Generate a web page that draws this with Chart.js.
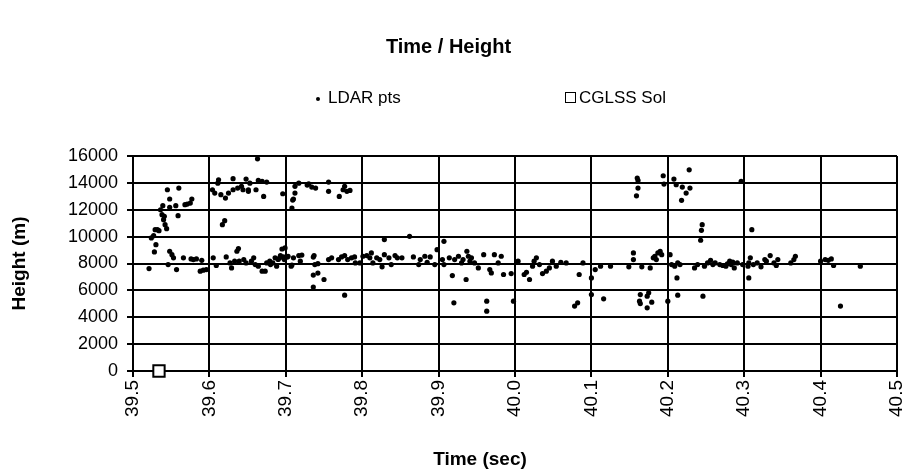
<!DOCTYPE html>
<html>
<head>
<meta charset="utf-8">
<script src="https://cdn.jsdelivr.net/npm/chart.js@4.4.1/dist/chart.umd.min.js"></script>
<style>
  body { margin: 0; background: #fff; }
  #wrap { position: relative; width: 913px; height: 475px; }
  #legend { position: absolute; left: 0; top: 86px; width: 913px; height: 24px;
    font: 17px "Liberation Sans", Arial, sans-serif; color: #000; }
  .item { position: absolute; top: 0; line-height: 24px; white-space: nowrap; }
  .dot { position: absolute; width: 4px; height: 4px; border-radius: 50%; background: #000; top: 11px; }
  .box { position: absolute; width: 9px; height: 9px; border: 1.5px solid #000; background: #fff; top: 6px; }
</style>
</head>
<body>
<div id="wrap">
  <canvas id="chart" width="913" height="475"></canvas>
  <div id="legend">
    <div class="item" style="left:316px"><span class="dot" style="left:0"></span><span style="margin-left:12px">LDAR pts</span></div>
    <div class="item" style="left:565px"><span class="box" style="left:0"></span><span style="margin-left:14px">CGLSS Sol</span></div>
  </div>
</div>
<script>
// LDAR source points: time (sec) and height (m)
const ldarTime = [
  39.521, 39.528, 39.530, 39.524, 39.527, 39.529, 39.532, 39.534, 39.544, 39.542,
  39.540, 39.538, 39.541, 39.536, 39.539, 39.548, 39.545, 39.560, 39.548, 39.556,
  39.559, 39.568, 39.575, 39.577, 39.571, 39.546, 39.548, 39.551, 39.553, 39.557,
  39.566, 39.576, 39.579, 39.583, 39.590, 39.588, 39.592, 39.596,
  39.605, 39.609, 39.611, 39.612, 39.607, 39.604, 39.617, 39.620, 39.615, 39.621,
  39.625, 39.631, 39.631, 39.637, 39.622, 39.629, 39.627, 39.633, 39.636, 39.638,
  39.639, 39.642, 39.644, 39.648, 39.651, 39.653, 39.651, 39.663, 39.661, 39.664,
  39.669, 39.675, 39.671, 39.658, 39.660, 39.664, 39.669, 39.673, 39.675, 39.679,
  39.686, 39.688, 39.693, 39.695, 39.696, 39.698, 39.645, 39.648, 39.655, 39.680,
  39.690, 39.683, 39.692, 39.697,
  39.702, 39.708, 39.721, 39.709, 39.708, 39.712, 39.728, 39.734, 39.736, 39.736,
  39.742, 39.736, 39.712, 39.710, 39.717, 39.730, 39.739, 39.756, 39.756, 39.770,
  39.775, 39.780, 39.784, 39.777, 39.699, 39.703, 39.710, 39.717, 39.719, 39.707,
  39.737, 39.738, 39.742, 39.750, 39.777, 39.756, 39.760, 39.769, 39.773, 39.777,
  39.781, 39.786, 39.790, 39.791, 39.797, 39.801, 39.806, 39.810, 39.812, 39.814,
  39.819, 39.823, 39.826, 39.829, 39.829, 39.835, 39.838, 39.843, 39.846, 39.852,
  39.862, 39.867, 39.874, 39.876, 39.882, 39.885, 39.889, 39.895, 39.898,
  39.907, 39.905, 39.907, 39.914, 39.918, 39.920, 39.921, 39.926, 39.930, 39.932,
  39.937, 39.936, 39.939, 39.941, 39.943, 39.947, 39.952, 39.959, 39.963, 39.963,
  39.967, 39.969, 39.973, 39.978, 39.982, 39.985, 39.995, 39.998, 40.004, 40.012,
  40.015, 40.019, 40.023, 40.025, 40.028, 40.032, 40.036, 40.041, 40.045, 40.049,
  40.054, 40.060, 40.067, 40.078, 40.082, 40.084, 40.089, 40.100, 40.100,
  40.105, 40.112, 40.116, 40.125, 40.149, 40.155, 40.155, 40.160, 40.161, 40.161,
  40.159, 40.164, 40.163, 40.164, 40.166, 40.173, 40.173, 40.175, 40.179, 40.177,
  40.181, 40.183, 40.185, 40.187, 40.190, 40.192, 40.194, 40.195, 40.200, 40.203,
  40.205, 40.208, 40.211, 40.209, 40.213, 40.212, 40.213, 40.216, 40.218, 40.219,
  40.224, 40.228, 40.229, 40.235, 40.239, 40.243, 40.244, 40.245, 40.246, 40.248,
  40.252, 40.256, 40.259, 40.268, 40.272, 40.276, 40.281, 40.283, 40.287, 40.291,
  40.296, 40.298, 40.305, 40.306, 40.262, 40.278, 40.285,
  40.306, 40.308, 40.310, 40.312, 40.317, 40.322, 40.327, 40.329, 40.334, 40.339,
  40.344, 40.342, 40.361, 40.365, 40.367, 40.400, 40.406, 40.410, 40.414, 40.417,
  40.426, 40.452
];
const ldarHeight = [
  7620, 8860, 9400, 9900, 10070, 10520, 10520, 10440, 10590, 10890,
  11260, 11630, 11510, 12000, 12300, 12800, 13490, 13610, 12180, 12300,
  11560, 12380, 12500, 12800, 12420, 7920, 8910, 8660, 8420, 7550,
  8420, 8340, 8290, 8340, 8240, 7430, 7500, 7550,
  8420, 7850, 13980, 14230, 13240, 13490, 10890, 11190, 13120, 12870,
  13240, 14310, 13490, 13610, 8490, 7670, 8040, 8170, 8910, 9110,
  8170, 13740, 13490, 14280, 13490, 13980, 13370, 15790, 13490, 14180,
  14110, 14060, 12990, 8420, 7920, 7800, 7430, 7430, 8040, 8170,
  8420, 7800, 8590, 9080, 13190, 8290, 8290, 8040, 8170, 7920,
  8300, 8040, 8420, 8500,
  8480, 7890, 8630, 12720, 12130, 13240, 13840, 13690, 8480, 7140,
  7290, 6250, 13740, 12800, 13980, 13930, 13610, 14060, 13370, 12990,
  13490, 13370, 13440, 13740, 9160, 8540, 8420, 8590, 8170, 7800,
  8590, 7920, 7990, 6810, 5640, 8290, 8420, 8290, 8490, 8590,
  8290, 8420, 8490, 8040, 8040, 8540, 8590, 8420, 8790, 8040,
  8420, 8290, 7750, 9780, 8660, 8420, 7920, 8590, 8420, 8420,
  10020, 8490, 7920, 8290, 8540, 8090, 8490, 7920, 9030,
  9650, 8290, 7920, 8420, 7100, 5070, 8290, 8540, 8040, 8290,
  8910, 6810, 8540, 8170, 8420, 8040, 7670, 8660, 5200, 4450,
  7550, 7300, 8660, 8040, 8540, 7180, 7250, 5200, 8170, 7180,
  7350, 6810, 7800, 8170, 8420, 7920, 7250, 7430, 7670, 8170,
  7800, 8090, 8040, 4830, 5070, 7180, 8040, 6930, 5690,
  7550, 7800, 5370, 7800, 7750, 8790, 8290, 14360, 14180, 13610,
  13040, 5690, 5200, 5020, 7750, 5570, 4700, 5820, 5120, 7670,
  8420, 8540, 8290, 8790, 8910, 8660, 14530, 13910, 5200, 8660,
  7920, 14280, 13860, 7800, 8040, 6930, 5640, 7920, 12700, 13690,
  13240, 14970, 13610, 7670, 7920, 9730, 10470, 10890, 5570, 7800,
  8040, 8240, 7920, 7920, 7850, 7800, 8170, 7920, 7670, 8040,
  14110, 7920, 7800, 6930, 8040, 7980, 8100,
  8040, 8420, 10520, 7920, 8040, 7750, 8290, 8170, 8590, 8040,
  8290, 7850, 8040, 8290, 8540, 8170, 8290, 8240, 8340, 7850,
  4830, 7800
];

// CGLSS solution
const cglssTime = [39.534];
const cglssHeight = [0];

const xTicks = [39.5, 39.6, 39.7, 39.8, 39.9, 40.0, 40.1, 40.2, 40.3, 40.4, 40.5];

const toPoints = (xs, ys) => xs.map((x, i) => ({ x, y: ys[i] }));

const font = '"Liberation Sans", Arial, sans-serif';
Chart.defaults.font.family = font;
Chart.defaults.color = '#000';

// x axis title sits a little left of the plot centre
const xTitlePlugin = {
  id: 'xTitle',
  afterDraw(chart) {
    const c = chart.ctx;
    c.save();
    c.font = `bold 19px ${font}`;
    c.fillStyle = '#000';
    c.textAlign = 'center';
    c.textBaseline = 'middle';
    c.fillText('Time (sec)', 480, 460);
    c.restore();
  },
};

const ctx = document.getElementById('chart').getContext('2d');

new Chart(ctx, {
  type: 'scatter',
  data: {
    datasets: [
      {
        label: 'LDAR pts',
        data: toPoints(ldarTime, ldarHeight),
        pointRadius: 2.6,
        pointBorderWidth: 0,
        pointBackgroundColor: '#000',
        pointHoverRadius: 2.6,
      },
      {
        label: 'CGLSS Sol',
        data: toPoints(cglssTime, cglssHeight),
        clip: false,
        pointStyle: 'rect',
        pointRadius: 8,
        pointBorderWidth: 2,
        pointBorderColor: '#000',
        pointBackgroundColor: '#fff',
      },
    ],
  },
  options: {
    responsive: false,
    animation: false,
    layout: { padding: { left: 0, right: 16, top: 0, bottom: 0 } },
    plugins: {
      legend: { display: false },
      tooltip: { enabled: false },
      title: {
        display: true,
        text: 'Time / Height',
        font: { size: 20, weight: 'bold' },
        padding: { top: 35, bottom: 97 },
      },
    },
    scales: {
      x: {
        type: 'linear',
        min: 39.5,
        max: 40.5,
        afterBuildTicks: (scale) => {
          scale.ticks = xTicks.map((value) => ({ value }));
        },
        afterFit: (scale) => {
          scale.height = 104;
          // rotated end label may hang past the border
          scale.paddingLeft = 0;
          scale.paddingRight = 0;
        },
        ticks: {
          minRotation: 90,
          maxRotation: 90,
          padding: 3,
          font: { size: 19 },
          callback: (value) => value.toFixed(1),
        },
        grid: { color: '#000', lineWidth: 2, tickLength: 6 },
        border: { color: '#000', width: 2 },
      },
      y: {
        min: 0,
        max: 16000,
        afterFit: (scale) => {
          scale.width = 133;
        },
        ticks: {
          stepSize: 2000,
          padding: 9,
          font: { size: 18 },
          callback: (value) => String(value),
        },
        grid: { color: '#000', lineWidth: 2, tickLength: 6 },
        border: { color: '#000', width: 2 },
        title: {
          display: true,
          text: 'Height (m)',
          font: { size: 19, weight: 'bold' },
          padding: { top: 8, bottom: 0 },
        },
      },
    },
  },
  plugins: [xTitlePlugin],
});
</script>
</body>
</html>
